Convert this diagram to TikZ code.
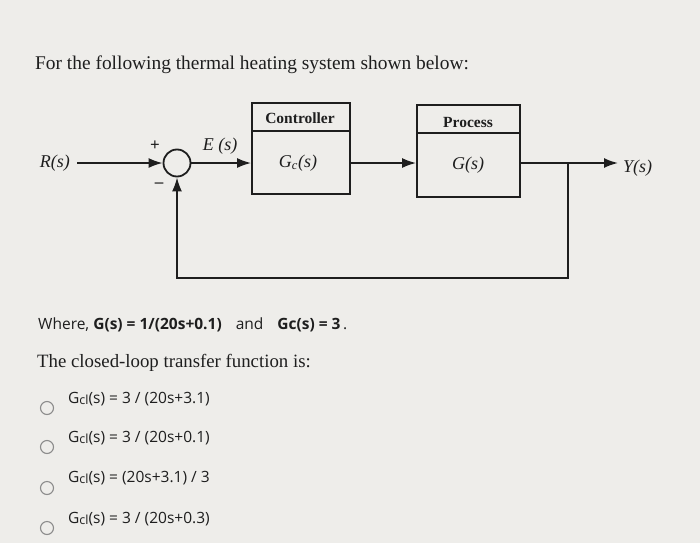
\documentclass[tikz,border=0pt]{standalone}
\usepackage{fontspec}
\setmainfont{Liberation Serif}
\newfontfamily\uifont{Open Sans}
\usetikzlibrary{arrows.meta}
\definecolor{bg}{RGB}{238,237,234}
\definecolor{ink}{RGB}{30,30,30}
\definecolor{radiogray}{RGB}{140,140,140}
\begin{document}
\begin{tikzpicture}[x=1pt,y=-1pt,
  blk/.style={draw=ink,line width=1.8pt,inner sep=0pt},
  wire/.style={draw=ink,line width=1.8pt},
  arr/.style={wire,-{Latex[length=14pt,width=10pt]}},
  sumnode/.style={circle,draw=ink,line width=1.8pt,minimum size=27pt,inner sep=0pt},
  dlabel/.style={text=ink,font=\fontsize{18}{18}\selectfont\itshape,inner sep=1pt},
  hlabel/.style={text=ink,font=\fontsize{15.5}{15.5}\selectfont\bfseries,inner sep=0pt},
  radio/.style={circle,draw=radiogray,line width=1.1pt,minimum size=13pt,inner sep=0pt},
  opt/.style={text=ink,font=\uifont\fontsize{15.5}{15.5}\selectfont,inner sep=0pt,anchor=base west},
]
\fill[bg] (0,0) rectangle (700,543);
\useasboundingbox (0,0) rectangle (700,543);

% title
\node[text=ink,font=\fontsize{19.4}{19.4}\selectfont,inner sep=0pt,anchor=base west] (title) at (35,69) {For the following thermal heating system shown below:};

% boxes
\node[blk,minimum width=98pt,minimum height=91pt] (ctrl) at (301,148.5) {};
\draw[wire] (252,131) -- (350,131);
\node[hlabel] (ctrlname) at (300,118) {Controller};
\node[dlabel] (gc) at (298,163) {G\textsubscript{\itshape c}(s)};

\node[blk,minimum width=103pt,minimum height=92pt] (proc) at (468.5,151) {};
\draw[wire] (417,133) -- (520,133);
\node[hlabel] (procname) at (468,122) {Process};
\node[dlabel] (g) at (468,165) {G(s)};

% summing junction
\node[sumnode] (sum) at (177,163) {};
\node[text=ink,font=\fontsize{17}{17}\selectfont\bfseries] (plus) at (155,146) {+};
\node[text=ink,font=\fontsize{17}{17}\selectfont\bfseries] (minus) at (159,185) {--};
\node[dlabel] (e) at (220,146) {E (s)};

% labels
\node[dlabel,anchor=east] (r) at (71,163) {R(s)};
\node[dlabel,anchor=west] (y) at (622,168) {Y(s)};

% connectors
\coordinate (branch) at (568,163);
\coordinate (fb) at (177,278);
\draw[arr] (r.east) ++(6,0) -- (sum.west);
\draw[arr] (sum.east) -- (ctrl.west |- sum.east);
\draw[arr] (ctrl.east |- 0,163) -- (proc.west |- 0,163);
\draw[arr] (proc.east |- 0,163) -- (618,163);
\draw[arr] (branch) |- (fb) -- (sum.south);

% text below
\node[opt] (where) at (38,329) {Where, \textbf{G(s) = 1/(20s+0.1)}\hspace{10pt} and\hspace{10pt} \textbf{Gc(s) = 3}\,.};
\node[text=ink,font=\fontsize{18.8}{18.8}\selectfont,inner sep=0pt,anchor=base west] (closed) at (37,367) {The closed-loop transfer function is:};

\newcommand{\gcl}{G\raisebox{-1pt}{\fontsize{12.5}{12.5}\selectfont cl}(s)}
\node[radio] (o1) at (47,408) {};
\node[opt] (t1) at (68,403) {\gcl{} = 3 / (20s+3.1)};
\node[radio] (o2) at (47,447) {};
\node[opt] (t2) at (68,442) {\gcl{} = 3 / (20s+0.1)};
\node[radio] (o3) at (47,488) {};
\node[opt] (t3) at (68,482) {\gcl{} = (20s+3.1) / 3};
\node[radio] (o4) at (47,528) {};
\node[opt] (t4) at (68,523) {\gcl{} = 3 / (20s+0.3)};
\end{tikzpicture}
\end{document}
